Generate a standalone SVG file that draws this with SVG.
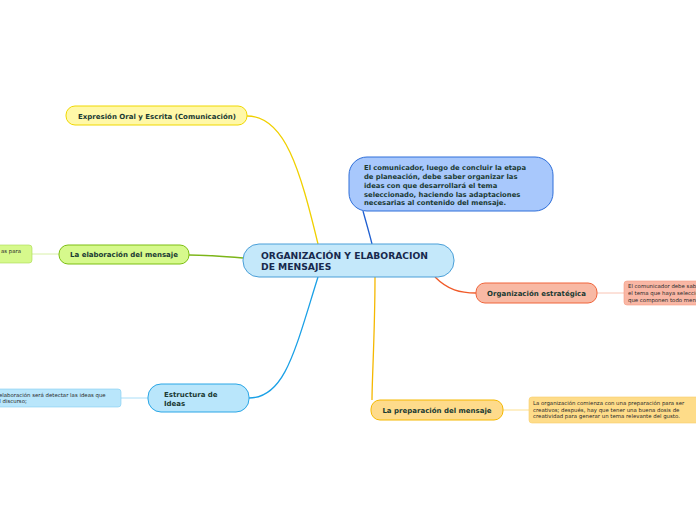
<svg xmlns="http://www.w3.org/2000/svg" width="696" height="520" viewBox="0 0 696 520">
<style>
.t{font-family:"DejaVu Sans",Verdana,sans-serif;font-weight:bold;fill:#1a3a33}
.n{font-family:"DejaVu Sans",Verdana,sans-serif;fill:#2a2a2a;font-size:5.4px}
.c{fill:none;stroke-width:1.3}
</style>
<rect width="696" height="520" fill="#ffffff"/>
<g id="connectors">
<path class="c" stroke="#f0d000" d="M318,244 C300,170 285,116 247,116"/>
<path class="c" stroke="#7cb518" d="M243,258 C220,256 205,255 189,255"/>
<path class="c" stroke="#1aa0e6" d="M318,277 C295,350 285,398 249,398"/>
<path class="c" stroke="#f5b800" d="M375,277 C375,330 372,380 372,400"/>
<path class="c" stroke="#f05a28" d="M435,277 C448,290 460,293 476,293"/>
<path class="c" stroke="#1f5fd0" d="M372,244 C369,232 366,222 363,211"/>
<path stroke="#f9c4b4" stroke-width="1" d="M597,293 H624"/>
<path stroke="#fde08f" stroke-width="1" d="M503,410 H529"/>
<path stroke="#a9def8" stroke-width="1" d="M121,398 H148"/>
<path stroke="#d8f0a8" stroke-width="1" d="M32,254 H59"/>
</g>
<g id="central">
<rect x="243" y="244" width="211" height="33" rx="16" fill="#c4e8fa" stroke="#4a9fd8" stroke-width="1"/>
<text class="t" x="261" y="259" font-size="9.2" style="fill:#17294d">ORGANIZACIÓN Y ELABORACION</text>
<text class="t" x="261" y="270" font-size="9.2" style="fill:#17294d">DE MENSAJES</text>
</g>
<g id="note-comunicador">
<rect x="349" y="157" width="204" height="54" rx="18" fill="#a8c8fc" stroke="#2f6fd9" stroke-width="1"/>
<text class="t" font-size="6.8" x="364" y="170">El comunicador, luego de concluir la etapa</text>
<text class="t" font-size="6.8" x="364" y="179">de planeación, debe saber organizar las</text>
<text class="t" font-size="6.8" x="364" y="188">ideas con que desarrollará el tema</text>
<text class="t" font-size="6.8" x="364" y="197">seleccionado, haciendo las adaptaciones</text>
<text class="t" font-size="6.8" x="364" y="205">necesarias al contenido del mensaje.</text>
</g>
<g id="estrategica">
<rect x="476" y="283" width="121" height="20" rx="9" fill="#f8b9a4" stroke="#f0643a" stroke-width="1"/>
<text class="t" font-size="7" x="536.5" y="295.5" text-anchor="middle">Organización estratégica</text>
</g>
<g id="note-estrategica">
<rect x="624" y="281" width="80" height="24" rx="3" fill="#f9b7a5" stroke="#f59a80" stroke-width="0.6"/>
<text class="n" x="628" y="288">El comunicador debe saber</text>
<text class="n" x="628" y="295">el tema que haya seleccionado</text>
<text class="n" x="628" y="302">que componen todo mensaje</text>
</g>
<g id="preparacion">
<rect x="371" y="400" width="132" height="20" rx="9" fill="#fedb8b" stroke="#f5b800" stroke-width="1"/>
<text class="t" font-size="7" x="437" y="412.5" text-anchor="middle">La preparación del mensaje</text>
</g>
<g id="note-preparacion">
<rect x="529" y="397" width="172" height="26" rx="3" fill="#fedc89" stroke="#f8cf6a" stroke-width="0.6"/>
<text class="n" x="533" y="405">La organización comienza con una preparación para ser</text>
<text class="n" x="533" y="411.5">creativos; después, hay que tener una buena dosis de</text>
<text class="n" x="533" y="418">creatividad para generar un tema relevante del gusto.</text>
</g>
<g id="estructura">
<rect x="148" y="384" width="101" height="28" rx="13" fill="#b9e6fb" stroke="#2aa6e6" stroke-width="1"/>
<text class="t" font-size="7" x="164" y="397">Estructura de</text>
<text class="t" font-size="7" x="164" y="406">Ideas</text>
</g>
<g id="note-estructura">
<rect x="-10" y="389" width="131" height="18" rx="3" fill="#b9e6fb" stroke="#7fcdf2" stroke-width="0.6"/>
<text class="n" x="-1" y="396.5">elaboración será detectar las ideas que</text>
<text class="n" x="-4" y="403">el discurso;</text>
</g>
<g id="elaboracion">
<rect x="59" y="245" width="130" height="19" rx="9" fill="#d6f98c" stroke="#7cbf12" stroke-width="1"/>
<text class="t" font-size="7" x="124" y="257" text-anchor="middle">La elaboración del mensaje</text>
</g>
<g id="note-elaboracion">
<rect x="-10" y="245" width="42" height="18" rx="3" fill="#d6f98c" stroke="#a8d850" stroke-width="0.6"/>
<text class="n" x="1" y="253">as para</text>
</g>
<g id="expresion">
<rect x="66" y="106" width="181" height="19" rx="9" fill="#fff8a8" stroke="#f0d800" stroke-width="1"/>
<text class="t" font-size="7" x="157" y="118.5" text-anchor="middle">Expresión Oral y Escrita (Comunicación)</text>
</g>
</svg>
